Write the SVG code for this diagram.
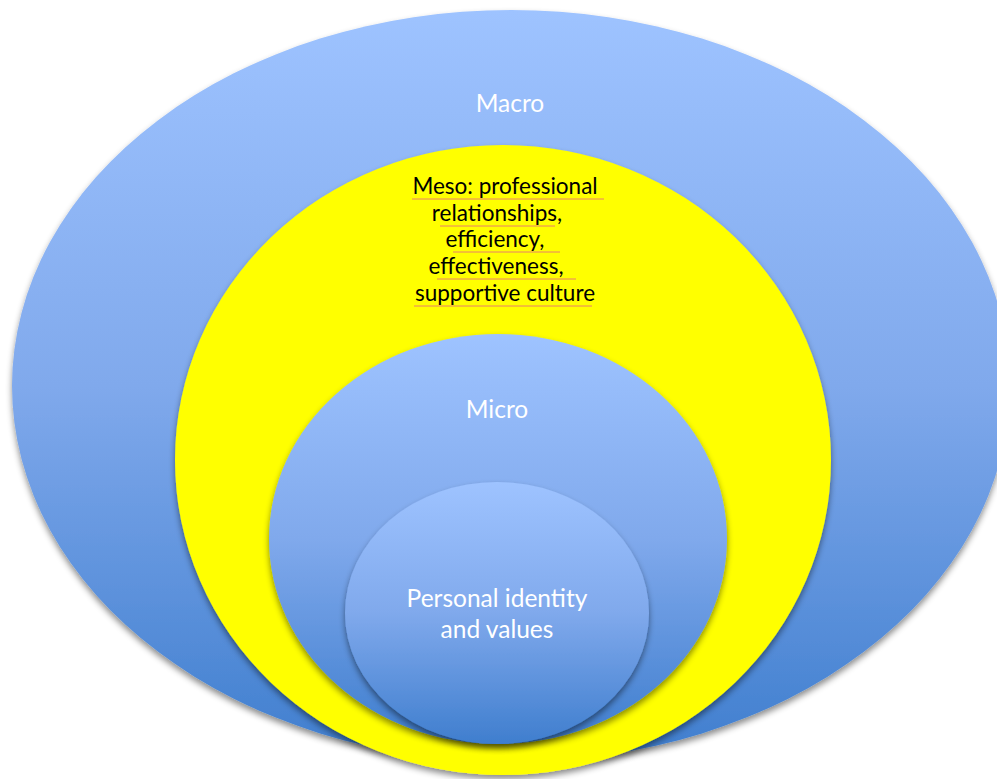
<svg xmlns="http://www.w3.org/2000/svg" width="997" height="779" viewBox="0 0 997 779">
<defs>
<linearGradient id="blue" x1="0" y1="0" x2="0" y2="1">
<stop offset="0" stop-color="#9EC3FF"/>
<stop offset="0.5" stop-color="#80A9EC"/>
<stop offset="1" stop-color="#3F7ECE"/>
</linearGradient>
<filter id="sh" x="-10%" y="-10%" width="120%" height="125%">
<feDropShadow dx="0" dy="4" stdDeviation="3" flood-color="#000" flood-opacity="0.45"/>
</filter>
</defs>
<style>
.b{fill:url(#blue);filter:url(#sh)}
.y{fill:#FFFF00;filter:url(#sh)}
.w{font-family:Lato,"Open Sans",sans-serif;font-size:24.5px;fill:#fff;text-anchor:middle}
.k{font-family:Lato,"Open Sans",sans-serif;font-size:22.5px;fill:#000;text-anchor:middle}
.sq{stroke:#E8806A;stroke-width:1;fill:none}
</style>
<rect width="997" height="779" fill="#fff"/>
<g id="macro">
<ellipse class="b" cx="511" cy="386" rx="499" ry="376"/>
<text class="w" x="510" y="112">Macro</text>
</g>
<g id="meso">
<ellipse class="y" cx="503" cy="460" rx="328" ry="315"/>
<text class="k" x="505" y="194">Meso: professional</text>
<text class="k" x="497" y="221">relationships,</text>
<text class="k" x="495" y="247">efficiency,</text>
<text class="k" x="496" y="274">effectiveness,</text>
<text class="k" x="505" y="301">supportive culture</text>
<path class="sq" d="M412 199H604M440 226H555M453 252H560M437 279H576M414 306H592"/>
</g>
<g id="micro">
<ellipse class="b" cx="498" cy="539" rx="229" ry="205"/>
<text class="w" x="497" y="418">Micro</text>
</g>
<g id="personal">
<ellipse class="b" cx="497" cy="613" rx="152" ry="131"/>
<text class="w" x="497" y="607">Personal identity</text>
<text class="w" x="497" y="638">and values</text>
</g>
<g id="connectors"/>
</svg>
